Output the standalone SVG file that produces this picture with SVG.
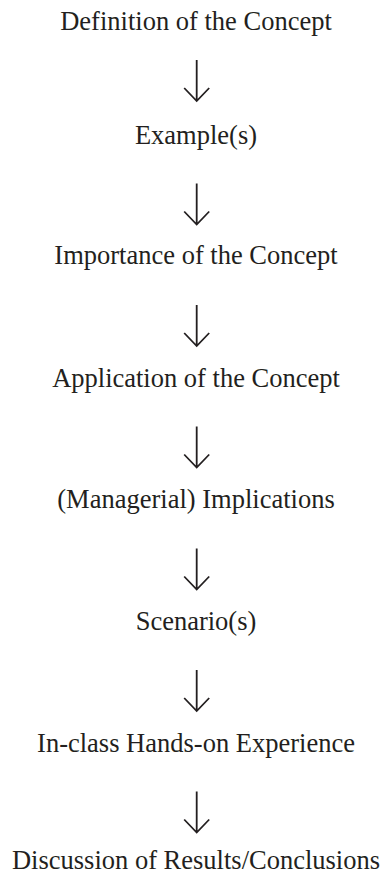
<svg xmlns="http://www.w3.org/2000/svg" width="383" height="878" viewBox="0 0 383 878">
<style>
.t{font-family:"Liberation Serif","Times New Roman",serif;font-size:26.5px;fill:#231f20;text-anchor:middle}
.a{fill:none;stroke:#231f20;stroke-width:1.8;stroke-linecap:butt;stroke-linejoin:miter}
</style>
<defs>
<path id="arr" class="a" d="M0,0 V41 M-12.5,28 L0,41 L12.5,28"/>
</defs>
<rect width="383" height="878" fill="#ffffff"/>
<g id="n1"><text class="t" x="196" y="30">Definition of the Concept</text></g>
<g id="n2"><text class="t" x="196" y="144">Example(s)</text></g>
<g id="n3"><text class="t" x="196" y="264">Importance of the Concept</text></g>
<g id="n4"><text class="t" x="196" y="387">Application of the Concept</text></g>
<g id="n5"><text class="t" x="196" y="508">(Managerial) Implications</text></g>
<g id="n6"><text class="t" x="196" y="630">Scenario(s)</text></g>
<g id="n7"><text class="t" x="196" y="752">In-class Hands-on Experience</text></g>
<g id="n8"><text class="t" x="196" y="869">Discussion of Results/Conclusions</text></g>
<g id="connectors">
<use href="#arr" x="196.7" y="60"/>
<use href="#arr" x="196.7" y="183.5"/>
<use href="#arr" x="196.7" y="305"/>
<use href="#arr" x="196.7" y="426.5"/>
<use href="#arr" x="196.7" y="548.5"/>
<use href="#arr" x="196.7" y="670"/>
<use href="#arr" x="196.7" y="791.5"/>
</g>
</svg>
